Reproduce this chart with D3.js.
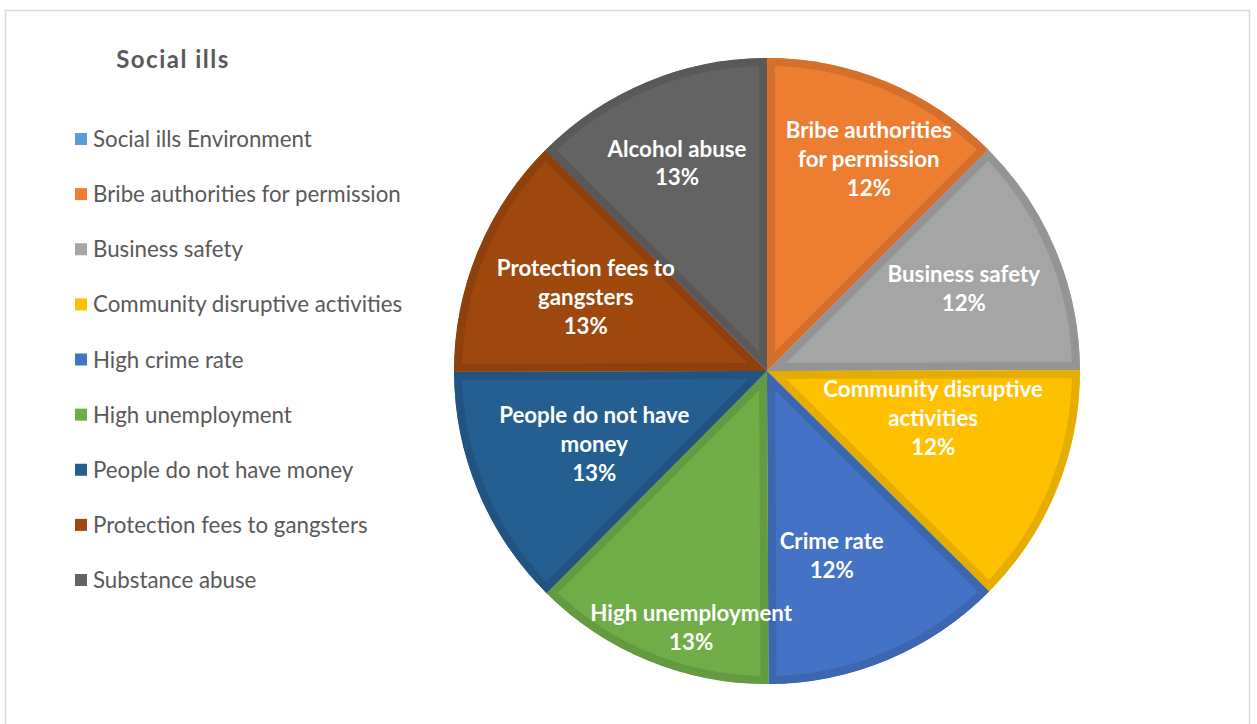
<!DOCTYPE html>
<html>
<head>
<meta charset="utf-8">
<script src="https://cdn.jsdelivr.net/npm/d3@7"></script>
<style>
  html, body { margin: 0; padding: 0; background: #fff; }
  svg { display: block; }
</style>
</head>
<body>
<svg id="chart" width="1257" height="724"></svg>
<script>
// Series names as listed in the legend
const categories = [
  "Social ills Environment",
  "Bribe authorities for permission",
  "Business safety",
  "Community disruptive activities",
  "High crime rate",
  "High unemployment",
  "People do not have money",
  "Protection fees to gangsters",
  "Substance abuse"
];
// Share of responses per social ill (percent)
const values = [0, 12.48, 12.48, 12.48, 12.48, 12.52, 12.52, 12.52, 12.52];
// Text printed inside each slice (name lines, the percentage is appended)
const sliceLabels = [
  [],
  ["Bribe authorities", "for permission"],
  ["Business safety"],
  ["Community disruptive", "activities"],
  ["Crime rate"],
  ["High unemployment"],
  ["People do not have", "money"],
  ["Protection fees to", "gangsters"],
  ["Alcohol abuse"]
];
const colors = ["#5B9BD5", "#ED7D31", "#A5A5A5", "#FFC000", "#4472C4",
                "#70AD47", "#255E91", "#9E480E", "#636363"];
// Label placement: [angle nudge in degrees, radius as fraction of pie radius]
const labelPlacement = [
  [0, 0.6], [3.25, 0.75], [0, 0.681], [-6.4, 0.552], [3.5, 0.627],
  [-5.8, 0.856], [-0.4, 0.6], [-0.3, 0.625], [-0.9, 0.723]
];

const svg = d3.select("#chart");
const FONT = "Lato, 'Open Sans', sans-serif";

// chart area frame
svg.append("rect")
  .attr("x", 5.5).attr("y", 10.5)
  .attr("width", 1244).attr("height", 730)
  .attr("fill", "#fff")
  .attr("stroke", "#d9d9d9").attr("stroke-width", 1.5);

// Title
svg.append("text")
  .attr("x", 173).attr("y", 68)
  .attr("text-anchor", "middle")
  .attr("font-family", FONT)
  .attr("font-weight", "bold")
  .attr("font-size", 24)
  .attr("letter-spacing", 1.5)
  .attr("fill", "#595959")
  .text("Social ills");

// Legend
const legendY = d3.scaleLinear().domain([0, categories.length - 1]).range([139, 580]);
const legend = svg.append("g");
categories.forEach((name, i) => {
  const y = legendY(i);
  legend.append("rect")
    .attr("x", 75).attr("y", y - 6)
    .attr("width", 12).attr("height", 12)
    .attr("fill", colors[i]);
  legend.append("text")
    .attr("x", 93).attr("y", y + 8)
    .attr("font-family", FONT)
    .attr("font-size", 22.3)
    .attr("fill", "#595959")
    .text(name);
});

// Pie
const cx = 767, cy = 371, R = 313;
const total = d3.sum(values);
const pie = d3.pie().sort(null).value(d => d.value).startAngle(0).endAngle(2 * Math.PI);
const data = categories.map((c, i) => ({ name: c, value: values[i], i }));
const arcs = pie(data).filter(d => d.data.value > 0);
const arc = d3.arc().innerRadius(0).outerRadius(R);

const g = svg.append("g").attr("transform", `translate(${cx},${cy})`);
const defs = svg.append("defs");

arcs.forEach(d => {
  const id = "clip-slice-" + d.data.i;
  defs.append("clipPath").attr("id", id)
    .append("path").attr("d", arc(d));
  const base = d3.color(colors[d.data.i]);
  g.append("path")
    .attr("d", arc(d))
    .attr("fill", colors[d.data.i])
    .attr("stroke", base.darker(0.3))
    .attr("stroke-width", 16)
    .attr("stroke-linejoin", "miter")
    .attr("clip-path", `url(#${id})`);
});

// Slice labels
const fmt = v => Math.round(v / total * 100) + "%";
arcs.forEach(d => {
  const [nudge, rf] = labelPlacement[d.data.i];
  const a = (d.startAngle + d.endAngle) / 2 + nudge * Math.PI / 180;
  const x = Math.sin(a) * R * rf;
  const y = -Math.cos(a) * R * rf;
  const lines = sliceLabels[d.data.i].concat([fmt(d.data.value)]);
  const lh = 28.7;
  const t = g.append("text")
    .attr("text-anchor", "middle")
    .attr("font-family", FONT)
    .attr("font-weight", "bold")
    .attr("font-size", 22.3)
    .attr("fill", "#fff");
  lines.forEach((ln, k) => {
    t.append("tspan")
      .attr("x", x)
      .attr("y", y + (k - (lines.length - 1) / 2) * lh + 7.5)
      .text(ln);
  });
});
</script>
</body>
</html>
